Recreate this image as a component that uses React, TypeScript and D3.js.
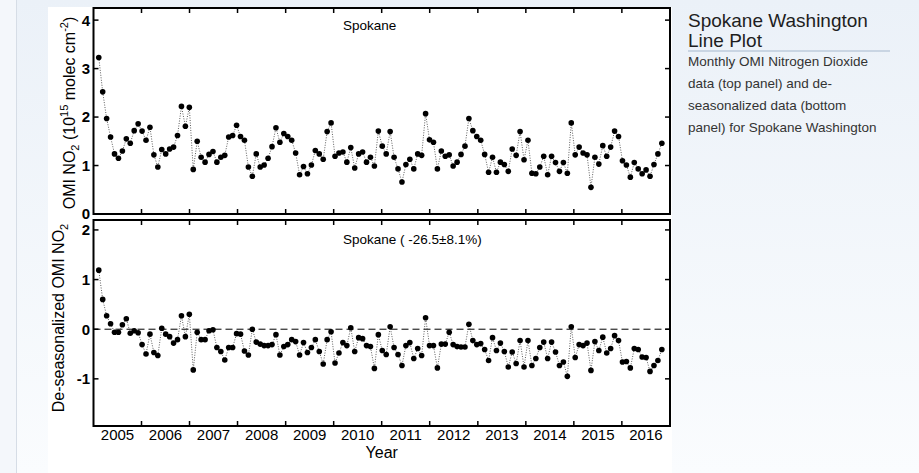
import { useEffect, useRef } from 'react';
import * as d3 from 'd3';

// first and last sample of the record; samples are evenly spaced between them
const recordStart = new Date(2005, 1, 10);
const recordEnd = new Date(2016, 9, 31);

// monthly OMI NO2, 10^15 molec cm^-2 (top panel)
const monthlyNO2 = [
  3.23, 2.52, 1.97, 1.59, 1.24, 1.15, 1.30, 1.55, 1.46, 1.72, 1.86, 1.71,
  1.52, 1.79, 1.22, 0.97, 1.33, 1.24, 1.34, 1.38, 1.62, 2.22, 1.81, 2.20,
  0.92, 1.50, 1.17, 1.07, 1.23, 1.29, 1.07, 1.17, 1.21, 1.59, 1.62, 1.83,
  1.60, 1.52, 0.97, 0.78, 1.24, 0.97, 1.01, 1.15, 1.39, 1.78, 1.48, 1.66,
  1.60, 1.52, 1.26, 0.81, 0.98, 0.83, 1.01, 1.31, 1.24, 1.13, 1.70, 1.88,
  1.19, 1.26, 1.28, 1.07, 1.37, 0.95, 1.24, 1.28, 1.07, 1.17, 0.99, 1.71,
  1.40, 1.24, 1.70, 1.17, 0.93, 0.66, 1.02, 1.13, 0.93, 1.24, 1.21, 2.07,
  1.53, 1.48, 0.93, 1.30, 1.19, 1.22, 0.99, 1.07, 1.23, 1.40, 1.97, 1.72,
  1.60, 1.52, 1.23, 0.86, 1.17, 0.86, 1.07, 1.02, 0.88, 1.34, 1.21, 1.70,
  1.12, 1.52, 0.84, 0.83, 0.97, 1.19, 0.81, 1.19, 1.06, 0.88, 1.06, 0.84,
  1.88, 1.22, 1.38, 1.26, 1.22, 0.55, 1.17, 1.03, 1.41, 1.19, 1.38, 1.71,
  1.60, 1.10, 1.01, 0.76, 1.06, 0.93, 0.83, 0.91, 0.78, 1.02, 1.24, 1.46,
];

// de-seasonalized anomaly (bottom panel)
const deseasonalizedNO2 = [
  1.19, 0.60, 0.27, 0.11, -0.06, -0.06, 0.09, 0.21, -0.08, -0.03, -0.07, -0.31,
  -0.50, -0.10, -0.47, -0.53, 0.02, -0.10, -0.15, -0.28, -0.21, 0.27, -0.15, 0.30,
  -0.82, -0.06, -0.21, -0.21, -0.03, -0.01, -0.37, -0.45, -0.62, -0.37, -0.37, -0.09,
  -0.10, -0.44, -0.52, 0.00, -0.26, -0.30, -0.33, -0.33, -0.31, -0.11, -0.52, -0.35,
  -0.31, -0.21, -0.25, -0.52, -0.27, -0.47, -0.37, -0.21, -0.45, -0.70, -0.21, -0.05,
  -0.68, -0.48, -0.27, -0.33, 0.03, -0.45, -0.17, -0.19, -0.33, -0.35, -0.79, -0.11,
  -0.43, -0.51, 0.05, -0.37, -0.51, -0.73, -0.33, -0.27, -0.59, -0.39, -0.53, 0.23,
  -0.33, -0.33, -0.78, -0.30, -0.30, -0.06, -0.31, -0.35, -0.36, -0.36, 0.10, -0.23,
  -0.31, -0.29, -0.41, -0.63, -0.17, -0.43, -0.28, -0.45, -0.76, -0.46, -0.69, -0.23,
  -0.76, -0.23, -0.73, -0.59, -0.37, -0.26, -0.59, -0.26, -0.46, -0.73, -0.66, -0.95,
  0.05, -0.57, -0.31, -0.33, -0.28, -0.83, -0.25, -0.43, -0.16, -0.48, -0.39, -0.13,
  -0.23, -0.66, -0.65, -0.78, -0.39, -0.41, -0.56, -0.57, -0.85, -0.73, -0.63, -0.41,
];

const yearLabels = [2005, 2006, 2007, 2008, 2009, 2010, 2011, 2012, 2013, 2014, 2015, 2016];
const topTicks = [0, 1, 2, 3, 4];
const bottomTicks = [-1, 0, 1, 2];
const topTitle = 'Spokane';
const bottomTitle = 'Spokane ( -26.5\u00b18.1%)';
const sideHeading = ['Spokane Washington', 'Line Plot'];
const sideText = [
  'Monthly OMI Nitrogen Dioxide',
  'data (top panel) and de-',
  'seasonalized data (bottom',
  'panel) for Spokane Washington',
];

const W = 919;
const H = 473;
const FONT = 'Arial, "Liberation Sans", Helvetica, sans-serif';

export default function App() {
  const svgRef = useRef<SVGSVGElement>(null);

  useEffect(() => {
    const svg = d3.select(svgRef.current);
    svg.selectAll('*').remove();

    // page background
    const defs = svg.append('defs');
    const grad = defs.append('linearGradient')
      .attr('id', 'pageBg').attr('x1', 0).attr('y1', 0).attr('x2', 0).attr('y2', 1);
    grad.append('stop').attr('offset', '0%').attr('stop-color', '#ebf1f8');
    grad.append('stop').attr('offset', '100%').attr('stop-color', '#fafcfe');

    svg.append('rect').attr('width', W).attr('height', H).attr('fill', 'url(#pageBg)');
    svg.append('rect').attr('width', 16).attr('height', H).attr('fill', '#f4f7fb');
    svg.append('line').attr('x1', 16.5).attr('x2', 16.5).attr('y1', 0).attr('y2', H)
      .attr('stroke', '#d6dde6').attr('stroke-width', 1);
    // white figure area
    svg.append('rect').attr('x', 48).attr('y', 7).attr('width', 624).attr('height', H - 7)
      .attr('fill', '#ffffff');

    const left = 93.5;
    const right = 670;
    const x = d3.scaleTime()
      .domain([new Date(2005, 0, 1), new Date(2017, 0, 1)])
      .range([left, right]);
    const yearTicks = d3.range(2006, 2017).map(yr => new Date(yr, 0, 1));

    const panels = [
      { values: monthlyNO2, domain: [0, 4.25], top: 8, bottom: 214, ticks: topTicks, title: topTitle, titleY: 30, zero: false },
      { values: deseasonalizedNO2, domain: [-1.95, 2.2], top: 220, bottom: 426, ticks: bottomTicks, title: bottomTitle, titleY: 244, zero: true },
    ];

    panels.forEach(p => {
      const y = d3.scaleLinear().domain(p.domain).range([p.bottom, p.top]);
      // sample index -> position along the record
      const xs = d3.scaleLinear()
        .domain([0, p.values.length - 1])
        .range([x(recordStart), x(recordEnd)]);
      const g = svg.append('g');

      if (p.zero) {
        g.append('line')
          .attr('x1', left).attr('x2', right)
          .attr('y1', y(0)).attr('y2', y(0))
          .attr('stroke', '#000').attr('stroke-width', 1)
          .attr('stroke-dasharray', '7,4');
      }

      // dotted connecting line
      const line = d3.line<number>()
        .x((d, i) => xs(i))
        .y(d => y(d));
      g.append('path')
        .datum(p.values)
        .attr('d', line)
        .attr('fill', 'none')
        .attr('stroke', '#333')
        .attr('stroke-width', 0.8)
        .attr('stroke-dasharray', '1,1.5');

      g.selectAll('.pt')
        .data(p.values)
        .enter()
        .append('circle')
        .attr('class', 'pt')
        .attr('cx', (d, i) => xs(i))
        .attr('cy', d => y(d))
        .attr('r', 2.8)
        .attr('fill', '#000');

      // inward ticks on all four sides
      yearTicks.forEach(t => {
        const tx = x(t);
        g.append('line').attr('x1', tx).attr('x2', tx).attr('y1', p.top).attr('y2', p.top + 5)
          .attr('stroke', '#000').attr('stroke-width', 1.5);
        g.append('line').attr('x1', tx).attr('x2', tx).attr('y1', p.bottom).attr('y2', p.bottom - 5)
          .attr('stroke', '#000').attr('stroke-width', 1.5);
      });
      p.ticks.forEach(v => {
        const ty = y(v);
        g.append('line').attr('x1', left).attr('x2', left + 5).attr('y1', ty).attr('y2', ty)
          .attr('stroke', '#000').attr('stroke-width', 1.5);
        g.append('line').attr('x1', right).attr('x2', right - 5).attr('y1', ty).attr('y2', ty)
          .attr('stroke', '#000').attr('stroke-width', 1.5);
        g.append('text')
          .attr('x', 90).attr('y', ty)
          .attr('dy', '0.36em')
          .attr('text-anchor', 'end')
          .style('font-family', FONT)
          .style('font-size', '15px')
          .style('font-weight', 'bold')
          .text(v);
      });

      g.append('rect')
        .attr('x', left).attr('y', p.top)
        .attr('width', right - left).attr('height', p.bottom - p.top)
        .attr('fill', 'none').attr('stroke', '#000').attr('stroke-width', 2);

      g.append('text')
        .attr('x', 343).attr('y', p.titleY)
        .style('font-family', FONT)
        .style('font-size', '13.5px')
        .text(p.title);
    });

    // year labels sit in the middle of each year
    svg.selectAll('.yr')
      .data(yearLabels)
      .enter()
      .append('text')
      .attr('class', 'yr')
      .attr('x', d => (x(new Date(d, 0, 1)) + x(new Date(d + 1, 0, 1))) / 2)
      .attr('y', 440)
      .attr('text-anchor', 'middle')
      .style('font-family', FONT)
      .style('font-size', '15px')
      .text(d => d);

    svg.append('text')
      .attr('x', (left + right) / 2).attr('y', 458)
      .attr('text-anchor', 'middle')
      .style('font-family', FONT)
      .style('font-size', '16px')
      .text('Year');

    // y axis titles
    const topLabel = svg.append('text')
      .attr('transform', 'translate(75,113) rotate(-90)')
      .attr('text-anchor', 'middle')
      .style('font-family', FONT)
      .style('font-size', '16px');
    topLabel.append('tspan').text('OMI NO');
    topLabel.append('tspan').attr('dy', 4).style('font-size', '11px').text('2');
    topLabel.append('tspan').attr('dy', -4).text(' (10');
    topLabel.append('tspan').attr('dy', -7).style('font-size', '11px').text('15');
    topLabel.append('tspan').attr('dy', 7).text(' molec cm');
    topLabel.append('tspan').attr('dy', -7).style('font-size', '11px').text('-2');
    topLabel.append('tspan').attr('dy', 7).text(')');

    const bottomLabel = svg.append('text')
      .attr('transform', 'translate(64,318) rotate(-90)')
      .attr('text-anchor', 'middle')
      .style('font-family', FONT)
      .style('font-size', '16px');
    bottomLabel.append('tspan').text('De-seasonalized OMI NO');
    bottomLabel.append('tspan').attr('dy', 4).style('font-size', '11px').text('2');

    // side description
    sideHeading.forEach((s, i) => {
      svg.append('text')
        .attr('x', 688).attr('y', 27 + i * 20)
        .style('font-family', FONT)
        .style('font-size', '19px')
        .style('fill', '#1e1e1e')
        .text(s);
    });
    svg.append('line')
      .attr('x1', 688).attr('x2', 890).attr('y1', 51).attr('y2', 51)
      .attr('stroke', '#c9d5e3').attr('stroke-width', 2);
    sideText.forEach((s, i) => {
      svg.append('text')
        .attr('x', 688).attr('y', 66 + i * 22)
        .style('font-family', FONT)
        .style('font-size', '13.5px')
        .style('fill', '#333')
        .text(s);
    });
  }, []);

  return (
    <div style={{ position: 'absolute', left: 0, top: 0 }}>
      <svg ref={svgRef} width={W} height={H} style={{ display: 'block' }}></svg>
    </div>
  );
}
